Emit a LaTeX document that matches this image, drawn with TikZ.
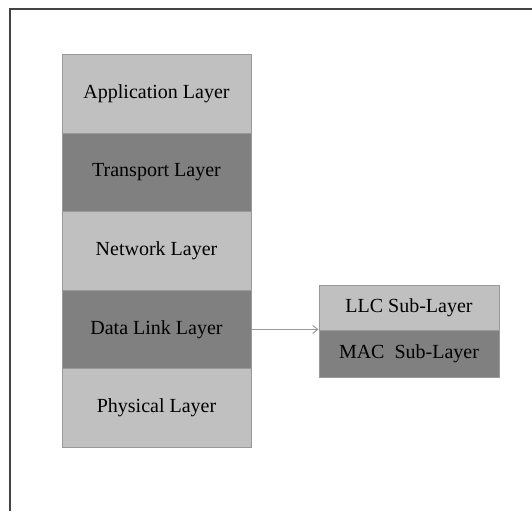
\documentclass[tikz,border=0pt]{standalone}
\usepackage{fontspec}
\setmainfont{Liberation Serif}
\usetikzlibrary{arrows.meta}
\definecolor{lightlayer}{HTML}{C0C0C0}
\definecolor{darklayer}{HTML}{808080}
\definecolor{edgegray}{HTML}{999999}
\definecolor{framegray}{HTML}{444444}
\tikzset{
  layer/.style={draw=edgegray, line width=1pt, minimum width=189pt, minimum height=78.4pt,
    inner sep=0pt, font=\fontsize{20}{22}\selectfont, text=black},
  sublayer/.style={draw=edgegray, line width=1pt, minimum width=180pt, minimum height=46pt,
    inner sep=0pt, font=\fontsize{20}{22}\selectfont, text=black},
  link/.style={draw=edgegray, line width=1pt, -{Straight Barb[length=5pt,width=8pt]}}
}
\begin{document}
\begin{tikzpicture}[x=1pt,y=-1pt]
  \useasboundingbox (0,0) rectangle (532,511);
  % outer frame (top and left edges)
  \draw[framegray, line width=1.3pt] (10,511) -- (10,9) -- (532,9);
  % protocol stack
  \node[layer, fill=lightlayer] (app)  at (156.5,94.2)  {Application Layer};
  \node[layer, fill=darklayer]  (trn)  at (156.5,172.6) {Transport Layer};
  \node[layer, fill=lightlayer] (net)  at (156.5,251.0) {Network Layer};
  \node[layer, fill=darklayer]  (dll)  at (156.5,329.4) {Data Link Layer};
  \node[layer, fill=lightlayer] (phy)  at (156.5,407.8) {Physical Layer};
  % data link sub-layers
  \node[sublayer, fill=lightlayer, minimum height=45pt] (llc) at (409,307.5) {LLC Sub-Layer};
  \node[sublayer, fill=darklayer,  minimum height=47pt] (mac) at (409,353.5) {MAC\ \ Sub-Layer};
  \coordinate (subjoin) at (llc.west |- dll.east);
  \draw[link] (dll.east) -- (subjoin);
\end{tikzpicture}
\end{document}
